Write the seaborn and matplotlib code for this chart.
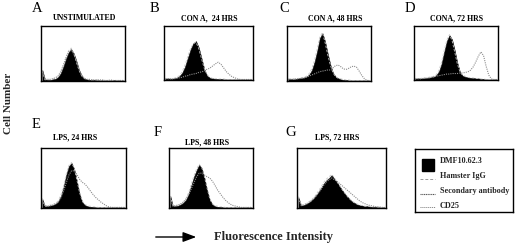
import numpy as np
import pandas as pd
import matplotlib
matplotlib.use("Agg")
import matplotlib.pyplot as plt
import seaborn as sns
from matplotlib.patches import Rectangle, FancyArrowPatch

# ---------------- data ----------------
panel_letters = ["A", "B", "C", "D", "E", "F", "G"]
panel_titles = ["UNSTIMULATED", "CON A,  24 HRS", "CON A, 48 HRS", "CONA, 72 HRS",
                "LPS, 24 HRS", "LPS, 48 HRS", "LPS, 72 HRS"]
legend_labels = ["DMF10.62.3", "Hamster IgG", "Secondary antibody", "CD25"]
x_label = "Fluorescence Intensity"
y_label = "Cell Number"

n_bins = 32

A_fill = [0.20,0.03,0.02,0.02,0.03,0.04,0.07,0.14,0.26,0.40,0.52,0.58,0.50,0.36,0.20,0.09,
          0.04,0.03,0.02,0.02,0.02,0.01,0.02,0.01,0.01,0.01,0.01,0.02,0.01,0.01,0.01,0.01]
A_igg  = [0.19,0.02,0.03,0.03,0.04,0.05,0.08,0.15,0.28,0.43,0.55,0.60,0.50,0.34,0.19,0.09,
          0.05,0.03,0.02,0.02,0.02,0.02,0.01,0.01,0.01,0.01,0.01,0.01,0.01,0.01,0.01,0.01]
A_cd25 = [0.18,0.03,0.03,0.03,0.04,0.06,0.09,0.17,0.29,0.42,0.53,0.57,0.49,0.37,0.22,0.11,
          0.05,0.03,0.03,0.02,0.02,0.02,0.02,0.02,0.01,0.01,0.02,0.01,0.01,0.01,0.01,0.01]

B_fill = [0.03,0.03,0.02,0.03,0.04,0.07,0.13,0.24,0.40,0.56,0.68,0.72,0.60,0.40,0.20,0.08,
          0.04,0.03,0.02,0.02,0.02,0.01,0.01,0.01,0.01,0.01,0.01,0.01,0.01,0.01,0.01,0.01]
B_igg  = [0.03,0.03,0.03,0.03,0.05,0.08,0.15,0.27,0.43,0.58,0.67,0.70,0.58,0.39,0.21,0.10,
          0.05,0.03,0.03,0.02,0.02,0.02,0.01,0.01,0.01,0.01,0.01,0.01,0.01,0.01,0.01,0.01]
B_cd25 = [0.02,0.02,0.02,0.02,0.03,0.04,0.05,0.07,0.08,0.10,0.11,0.12,0.14,0.15,0.17,0.20,
          0.22,0.26,0.30,0.33,0.29,0.22,0.15,0.10,0.06,0.04,0.02,0.01,0.01,0.01,0.01,0.01]

C_fill = [0.04,0.04,0.03,0.04,0.05,0.05,0.06,0.08,0.12,0.20,0.35,0.55,0.78,0.87,0.72,0.50,
          0.30,0.15,0.08,0.05,0.03,0.02,0.02,0.01,0.01,0.01,0.01,0.01,0.01,0.01,0.01,0.01]
C_igg  = [0.04,0.04,0.04,0.04,0.05,0.06,0.07,0.09,0.14,0.23,0.38,0.58,0.80,0.88,0.70,0.48,
          0.29,0.15,0.08,0.05,0.04,0.03,0.02,0.02,0.01,0.01,0.01,0.01,0.01,0.01,0.01,0.01]
C_cd25 = [0.03,0.03,0.03,0.04,0.04,0.05,0.06,0.07,0.09,0.11,0.13,0.15,0.17,0.18,0.19,0.20,
          0.20,0.24,0.28,0.29,0.26,0.22,0.21,0.23,0.26,0.27,0.25,0.18,0.10,0.04,0.01,0.01]

D_fill = [0.03,0.03,0.03,0.03,0.04,0.04,0.05,0.06,0.09,0.16,0.30,0.52,0.72,0.83,0.75,0.55,
          0.32,0.15,0.08,0.06,0.05,0.04,0.04,0.03,0.03,0.02,0.02,0.01,0.01,0.01,0.01,0.01]
D_igg  = [0.03,0.03,0.03,0.04,0.04,0.05,0.06,0.07,0.10,0.18,0.33,0.55,0.74,0.84,0.73,0.52,
          0.30,0.15,0.09,0.07,0.05,0.04,0.04,0.03,0.03,0.02,0.02,0.01,0.01,0.01,0.01,0.01]
D_cd25 = [0.02,0.02,0.02,0.03,0.03,0.04,0.05,0.06,0.07,0.08,0.09,0.10,0.11,0.11,0.12,0.12,
          0.12,0.13,0.13,0.14,0.15,0.18,0.24,0.33,0.44,0.52,0.45,0.25,0.09,0.02,0.01,0.01]

E_fill = [0.15,0.03,0.03,0.04,0.05,0.07,0.11,0.20,0.35,0.55,0.70,0.75,0.65,0.45,0.24,0.10,
          0.05,0.03,0.02,0.02,0.01,0.01,0.01,0.01,0.01,0.01,0.01,0.01,0.01,0.01,0.01,0.01]
E_igg  = [0.16,0.03,0.04,0.05,0.06,0.08,0.12,0.22,0.37,0.57,0.71,0.76,0.66,0.47,0.26,0.12,
          0.06,0.04,0.03,0.02,0.02,0.01,0.01,0.01,0.01,0.01,0.01,0.01,0.01,0.01,0.01,0.01]
E_cd25 = [0.12,0.03,0.03,0.04,0.05,0.07,0.10,0.17,0.28,0.42,0.55,0.62,0.62,0.56,0.48,0.43,
          0.40,0.35,0.29,0.23,0.18,0.14,0.10,0.07,0.04,0.02,0.01,0.01,0.01,0.01,0.01,0.01]

F_fill = [0.20,0.03,0.03,0.04,0.06,0.09,0.14,0.24,0.38,0.52,0.63,0.72,0.66,0.50,0.30,0.14,
          0.06,0.03,0.02,0.02,0.01,0.01,0.01,0.01,0.01,0.01,0.01,0.01,0.01,0.01,0.01,0.01]
F_igg  = [0.20,0.04,0.04,0.05,0.07,0.10,0.16,0.26,0.40,0.54,0.65,0.73,0.67,0.52,0.33,0.16,
          0.07,0.04,0.03,0.02,0.02,0.01,0.01,0.01,0.01,0.01,0.01,0.01,0.01,0.01,0.01,0.01]
F_cd25 = [0.15,0.03,0.04,0.05,0.07,0.10,0.15,0.22,0.32,0.42,0.52,0.58,0.58,0.55,0.52,0.50,
          0.45,0.38,0.30,0.24,0.18,0.13,0.09,0.06,0.04,0.03,0.02,0.01,0.01,0.01,0.01,0.01]

G_fill = [0.18,0.04,0.05,0.07,0.10,0.14,0.19,0.25,0.32,0.40,0.46,0.50,0.55,0.48,0.42,0.35,
          0.28,0.22,0.17,0.12,0.09,0.06,0.05,0.04,0.03,0.03,0.02,0.02,0.02,0.01,0.01,0.01]
G_igg  = [0.19,0.05,0.06,0.08,0.11,0.15,0.20,0.27,0.34,0.42,0.48,0.52,0.56,0.50,0.43,0.36,
          0.29,0.23,0.17,0.13,0.09,0.07,0.05,0.04,0.03,0.03,0.02,0.02,0.02,0.01,0.01,0.01]
G_cd25 = [0.15,0.04,0.05,0.07,0.10,0.13,0.18,0.24,0.30,0.37,0.43,0.47,0.50,0.47,0.44,0.40,
          0.36,0.32,0.28,0.24,0.20,0.16,0.12,0.09,0.07,0.05,0.04,0.03,0.02,0.02,0.01,0.01]

fills = [A_fill, B_fill, C_fill, D_fill, E_fill, F_fill, G_fill]
iggs = [A_igg, B_igg, C_igg, D_igg, E_igg, F_igg, G_igg]
cd25s = [A_cd25, B_cd25, C_cd25, D_cd25, E_cd25, F_cd25, G_cd25]

# ---------------- layout (pixels) ----------------
W, H = 520, 247
boxes = [(41, 26, 125, 81), (164, 26, 253, 80), (287, 26, 371, 81), (414, 26, 498, 80),
         (41, 148, 126, 208), (169, 148, 253, 208), (297, 148, 386, 208)]
letter_pos = [(37, 8), (154, 8), (284, 8), (410, 8), (36, 125), (158, 132), (291, 132)]
title_pos = [(85, 18), (209, 18), (335, 18), (457, 18), (75, 137), (207, 142), (337, 137)]

sns.set_theme(style="white")
plt.rcParams["font.family"] = ["Liberation Serif", "DejaVu Serif"]

fig = plt.figure(figsize=(W / 100, H / 100), dpi=100)
fig.patch.set_facecolor("white")


def fx(px):
    return px / W


def fy(py):
    return 1 - py / H


centers = (np.arange(n_bins) + 0.5) / n_bins

for i in range(7):
    x0, y0, x1, y1 = boxes[i]
    ax = fig.add_axes([fx(x0), fy(y1), (x1 - x0) / W, (y1 - y0) / H])
    df = pd.DataFrame({"x": centers, "fill": fills[i], "igg": iggs[i], "cd25": cd25s[i]})
    sns.histplot(data=df, x="x", weights="fill", binwidth=1.0 / n_bins, binrange=(0, 1),
                 element="poly", fill=True, color="black", alpha=1.0, linewidth=0.4,
                 edgecolor="#111111", ax=ax)
    sns.lineplot(data=df, x="x", y="igg", color="#c8c8c8", linewidth=0.6,
                 linestyle=(0, (3, 2)), ax=ax)
    sns.lineplot(data=df, x="x", y="cd25", color="#8c8c8c", linewidth=0.8,
                 linestyle=(0, (1, 1)), ax=ax)
    ax.set_xlim(0, 1)
    ax.set_ylim(0, 1)
    ax.set_xticks([])
    ax.set_yticks([])
    ax.set_xlabel("")
    ax.set_ylabel("")
    for s in ax.spines.values():
        s.set_visible(True)
        s.set_color("black")
        s.set_linewidth(1.0)
    fig.text(fx(letter_pos[i][0]), fy(letter_pos[i][1]), panel_letters[i],
             fontsize=10.5, ha="center", va="center", color="black")
    fig.text(fx(title_pos[i][0]), fy(title_pos[i][1]), panel_titles[i],
             fontsize=5.7, fontweight="bold", ha="center", va="center", color="black")

# legend box
lx0, ly0, lx1, ly1 = 415, 149, 513, 212
lax = fig.add_axes([fx(lx0), fy(ly1), (lx1 - lx0) / W, (ly1 - ly0) / H])
lax.set_xlim(lx0, lx1)
lax.set_ylim(ly1, ly0)
lax.set_xticks([])
lax.set_yticks([])
for s in lax.spines.values():
    s.set_visible(True)
    s.set_color("black")
    s.set_linewidth(1.0)
lax.add_patch(Rectangle((422, 159), 12, 12, facecolor="black", edgecolor="black"))
lax.plot([420, 435], [179, 179], color="#9a9a9a", lw=0.7, linestyle=(0, (3, 2)))
lax.plot([420, 435], [194, 194], color="#555555", lw=0.8, linestyle=(0, (1, 0.6)))
lax.plot([420, 435], [207, 207], color="#777777", lw=0.7, linestyle=(0, (1, 1)))
for lab, ty in zip(legend_labels, [161, 176, 191, 206]):
    lax.text(440, ty, lab, fontsize=5.9, fontweight="bold", ha="left", va="center")

# axis labels
fig.text(fx(9), fy(103), y_label, rotation=90, fontsize=8.0, fontweight="bold",
         ha="center", va="center")
fig.text(fx(214), fy(237), x_label, fontsize=9.0, fontweight="bold", ha="left", va="center")
fig.add_artist(FancyArrowPatch(
    (fx(153), fy(237)), (fx(199), fy(237)), transform=fig.transFigure,
    arrowstyle="-|>,head_length=8,head_width=3", color="black", lw=1.0))

fig.savefig("out.png", dpi=100, facecolor="white")
